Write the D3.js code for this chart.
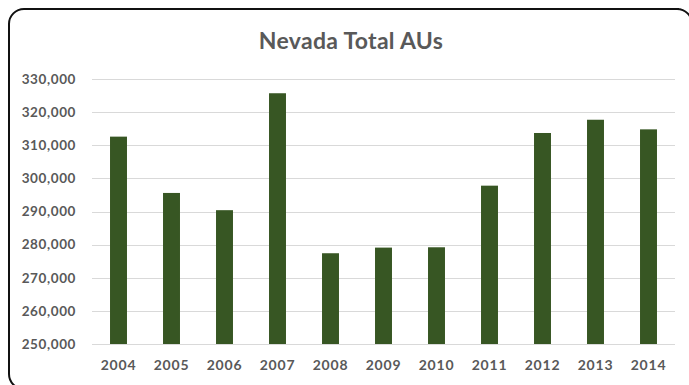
<!DOCTYPE html>
<html>
<head>
<meta charset="utf-8">
<script src="https://cdn.jsdelivr.net/npm/d3@7"></script>
<style>
  html, body { margin: 0; padding: 0; background: #fff; overflow: hidden; }
  svg { display: block; }
</style>
</head>
<body>
<svg id="chart" width="689" height="385"></svg>
<script>
// Nevada total animal units by year
const years = ["2004", "2005", "2006", "2007", "2008", "2009", "2010", "2011", "2012", "2013", "2014"];
const totalAUs = [312600, 295600, 290400, 325700, 277400, 279100, 279200, 297800, 313700, 317700, 314800];
const yTicks = [250000, 260000, 270000, 280000, 290000, 300000, 310000, 320000, 330000];
const chartTitle = "Nevada Total AUs";

const svg = d3.select("#chart");
const plot = { left: 92, right: 675, top: 79, bottom: 344 };
const textColor = "#595959";
const fontFamily = "Lato, 'Open Sans', sans-serif";

// frame: left side, top side and the two visible rounded corners
const r = 15;
const frame = d3.path();
frame.moveTo(20, 389);
frame.arcTo(9, 389, 9, 378, r);
frame.lineTo(9, 9 + r);
frame.arcTo(9, 9, 9 + r, 9, r);
frame.lineTo(679, 9);
frame.arcTo(692, 9, 692, 22, r);
svg.append("path")
  .attr("d", frame.toString())
  .attr("fill", "none")
  .attr("stroke", "#111")
  .attr("stroke-width", 2);

const x = d3.scaleBand()
  .domain(years)
  .range([plot.left, plot.right])
  .paddingInner(0.68)
  .paddingOuter(0.34);

const y = d3.scaleLinear()
  .domain([250000, 330000])
  .range([plot.bottom, plot.top]);

// horizontal gridlines
svg.append("g")
  .selectAll("line")
  .data(yTicks)
  .join("line")
  .attr("x1", plot.left).attr("x2", plot.right)
  .attr("y1", d => Math.round(y(d)) + 0.5)
  .attr("y2", d => Math.round(y(d)) + 0.5)
  .attr("stroke", "#d9d9d9")
  .attr("stroke-width", 1);

// bars
svg.append("g")
  .selectAll("rect")
  .data(years.map((yr, i) => ({ yr, v: totalAUs[i] })))
  .join("rect")
  .attr("x", d => x(d.yr))
  .attr("width", x.bandwidth())
  .attr("y", d => y(d.v))
  .attr("height", d => y(250000) - y(d.v))
  .attr("fill", "#375623");

// y axis labels
const yAxis = d3.axisLeft(y)
  .tickValues(yTicks)
  .tickSize(0)
  .tickPadding(0)
  .tickFormat(d3.format(","));
const gy = svg.append("g")
  .attr("transform", `translate(76,0)`)
  .call(yAxis);
gy.select(".domain").remove();
gy.selectAll("text")
  .attr("fill", textColor)
  .attr("font-family", fontFamily)
  .attr("font-weight", "bold")
  .attr("font-size", "13.5px")
  .attr("letter-spacing", "0.6px");

// x axis labels
const xAxis = d3.axisBottom(x).tickSize(0).tickPadding(0);
const gx = svg.append("g")
  .attr("transform", `translate(0,${plot.bottom + 16})`)
  .call(xAxis);
gx.select(".domain").remove();
gx.selectAll("text")
  .attr("fill", textColor)
  .attr("font-family", fontFamily)
  .attr("font-weight", "bold")
  .attr("font-size", "14px")
  .attr("letter-spacing", "0.8px");

// title
svg.append("text")
  .attr("x", 351)
  .attr("y", 49)
  .attr("text-anchor", "middle")
  .attr("fill", textColor)
  .attr("font-family", fontFamily)
  .attr("font-weight", "bold")
  .attr("font-size", "23px")
  .attr("letter-spacing", "0.3px")
  .text(chartTitle);
</script>
</body>
</html>
